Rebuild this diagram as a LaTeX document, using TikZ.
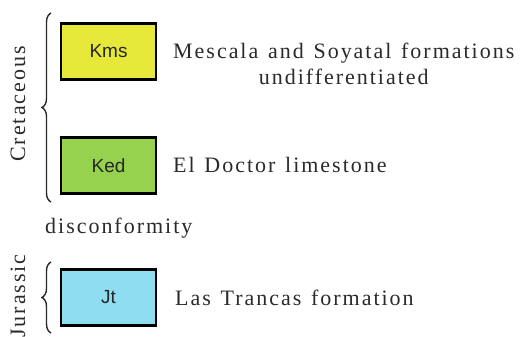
\documentclass[tikz,border=0pt]{standalone}
\usepackage{fontspec}
\setmainfont{Liberation Serif}[LetterSpace=9, WordSpace=1.3]
\newfontfamily\boxfont{Liberation Sans}
\usetikzlibrary{decorations.pathreplacing}
\definecolor{kmsc}{HTML}{E6E83A}
\definecolor{kedc}{HTML}{96D24E}
\definecolor{jtc}{HTML}{8EDDF0}
\definecolor{inkc}{HTML}{2A2A2A}
\tikzset{
  unit/.style={draw=black, line width=2.6pt, minimum width=95pt, minimum height=56pt, inner sep=0pt, font=\boxfont\fontsize{19}{22}\selectfont, text=black!85},
  desc/.style={anchor=west, font=\fontsize{22}{26}\selectfont, text=inkc, inner sep=0pt, align=center},
  agebrace/.style={decorate, decoration={brace, amplitude=9pt}, line width=1.4pt, draw=inkc},
  age/.style={rotate=90, font=\fontsize{22}{26}\selectfont, text=inkc, inner sep=0pt}
}
\begin{document}
\begin{tikzpicture}[x=1pt, y=-1pt]
\useasboundingbox (0,0) rectangle (523,337);
\node[unit, fill=kmsc] (kms) at (108.5,51.5) {Kms};
\node[unit, fill=kedc] (ked) at (108.5,165.5) {Ked};
\node[unit, fill=jtc] (jt) at (108.5,297.5) {Jt};
\node[desc] (kmsd) at (173,64) {Mescala and Soyatal formations\\undifferentiated};
\node[desc] (kedd) at (173,165) {El Doctor limestone};
\node[desc] (jtd) at (175,298) {Las Trancas formation};
\node[desc] (disc) at (45,228) {disconformity};
\coordinate (cb) at (51,202);
\coordinate (ct) at (51,13);
\coordinate (jb) at (51,333);
\coordinate (jtop) at (51,262);
\draw[agebrace] (cb) -- (ct);
\draw[agebrace] (jb) -- (jtop);
\node[age] (cret) at (18,104) {Cretaceous};
\node[age] (jur) at (18,296) {Jurassic};
\end{tikzpicture}
\end{document}
